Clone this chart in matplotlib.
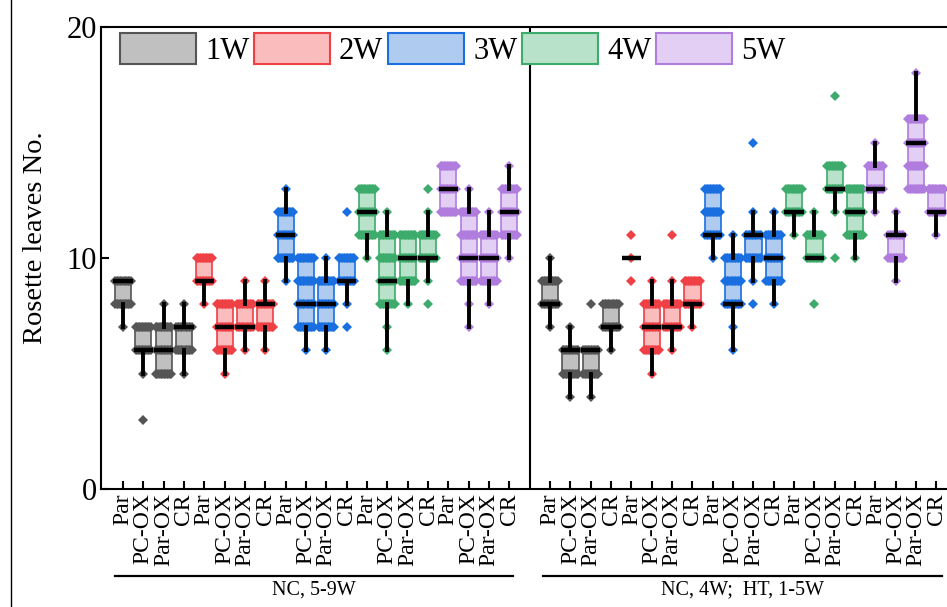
import numpy as np
import matplotlib
matplotlib.use("Agg")
import matplotlib.pyplot as plt
import matplotlib.transforms as mtransforms
from matplotlib.patches import Patch
from matplotlib.lines import Line2D

plt.rcParams['font.family'] = ['Liberation Serif', 'DejaVu Serif']

# groups: 5 weeks x 4 lines, left panel (NC, 5-9W) then right panel (NC 4W; HT 1-5W)
lines = ["Par", "PC-OX", "Par-OX", "CR"]
weeks = ["1W", "2W", "3W", "4W", "5W"]
panel_labels = ["NC, 5-9W", "NC, 4W;  HT, 1-5W"]

face_colors = ["#c0c0c0", "#fbbcbe", "#afcbf0", "#b8e2c9", "#e2cff3"]
edge_colors = ["#555555", "#ee4045", "#1a6fe0", "#3cab6b", "#b07cde"]

# box statistics, 40 groups
whislo = [7, 5, 5, 5,   8, 5, 6, 6,   9, 6, 6, 8,    10, 6, 8, 9,    12, 7, 8, 10,
          7, 4, 4, 6,   10, 5, 6, 7,  10, 6, 9, 8,   11, 10, 12, 10, 12, 9, 13, 11]
q1 = [8, 6, 5, 6,   9, 6, 7, 7,    10, 7, 7, 9,   11, 8, 9, 10,   12, 9, 9, 11,
      8, 5, 5, 7,   10, 6, 7, 8,   11, 8, 10, 9,  12, 10, 13, 11, 13, 10, 13, 12]
med = [9, 6, 6, 7,   9, 7, 7, 8,   11, 8, 8, 9,   12, 9, 10, 10,  13, 10, 10, 12,
       8, 6, 6, 7,   10, 7, 7, 8,  11, 8, 11, 10, 12, 10, 13, 12, 13, 11, 15, 12]
q3 = [9, 7, 7, 7,   10, 8, 8, 8,   12, 10, 9, 10,  13, 11, 11, 11,  14, 12, 11, 13,
      9, 6, 6, 8,   10, 8, 8, 9,   13, 10, 11, 11, 13, 11, 14, 13,  14, 11, 16, 13]
whishi = [9, 7, 8, 8,   10, 8, 9, 9,   13, 10, 10, 10,  13, 12, 11, 12,  14, 13, 12, 14,
          10, 7, 6, 8,  10, 9, 9, 9,   13, 11, 12, 12,  13, 12, 14, 13,  15, 12, 18, 13]
points = [[7, 8, 9], [3, 5, 6, 7], [5, 6, 7, 8], [5, 6, 7, 8],
          [8, 9, 10], [5, 6, 7, 8], [6, 7, 8, 9], [6, 7, 8, 9],
          [9, 10, 11, 12, 13], [6, 7, 8, 9, 10], [6, 7, 8, 9, 10], [7, 8, 9, 10, 12],
          [10, 11, 12, 13], [6, 7, 8, 9, 10, 11, 12], [8, 9, 10, 11], [8, 9, 10, 11, 12, 13],
          [12, 13, 14], [7, 8, 9, 10, 11, 12, 13], [8, 9, 10, 11, 12], [10, 11, 12, 13, 14],
          [7, 8, 9, 10], [4, 5, 6, 7], [4, 5, 6, 8], [6, 7, 8],
          [9, 10, 11], [5, 6, 7, 8, 9], [6, 7, 8, 9, 11], [7, 8, 9],
          [10, 11, 12, 13], [6, 7, 8, 9, 10, 11], [8, 9, 10, 11, 12, 15], [8, 9, 10, 11, 12],
          [11, 12, 13], [8, 10, 11, 12], [10, 12, 13, 14, 17], [10, 11, 12, 13],
          [12, 13, 14, 15], [9, 10, 11, 12], [13, 14, 15, 16, 18], [11, 12, 13]]

positions = list(range(1, 21)) + list(range(22, 42))
tick_labels = lines * 10
group_color = [w for p in range(2) for w in range(5) for _ in range(4)]

fig = plt.figure(figsize=(9.47, 6.07), dpi=100)
ax = fig.add_axes([101/947, 1 - 489/607, 1 - 101/947, (489 - 27)/607])

box_w = 0.8
stats = []
for i in range(40):
    stats.append(dict(whislo=whislo[i], q1=q1[i], med=med[i], q3=q3[i],
                      whishi=whishi[i], fliers=[]))
bp = ax.bxp(stats, positions=positions, widths=box_w, patch_artist=True,
            showcaps=False, showfliers=False,
            whiskerprops=dict(color='black', lw=2.8, zorder=4),
            medianprops=dict(visible=False))
for i, box in enumerate(bp['boxes']):
    c = group_color[i]
    box.set_facecolor(face_colors[c])
    box.set_edgecolor(edge_colors[c])
    box.set_linewidth(1.2)
    box.set_zorder(2)

# data points, rows of diamonds inside the box, single ones outside
offs = np.linspace(-0.38, 0.38, 11)
for i in range(40):
    c = edge_colors[group_color[i]]
    x0 = positions[i]
    for v in points[i]:
        if q1[i] <= v <= q3[i] and q3[i] > q1[i]:
            ax.plot(x0 + offs, [v] * len(offs), 'D', color=c, ms=5, mew=0, zorder=3)
        else:
            ax.plot([x0], [v], 'D', color=c, ms=5.5, mew=0, zorder=3)

ax.hlines(med, np.array(positions) - 0.48, np.array(positions) + 0.48,
          color='black', lw=3.2, zorder=5)

ax.axvline(21, color='black', lw=1.5, zorder=1)

ax.set_xlim(-0.08, 41.52)
ax.set_ylim(0, 20)
ax.set_yticks([0, 10, 20])
ax.set_xticks(positions)
ax.set_xticklabels(tick_labels, rotation=90, fontsize=17)
ax.tick_params(axis='y', direction='in', length=6, width=1.5, labelsize=22, pad=3)
ax.tick_params(axis='x', direction='in', length=6, width=1.5, pad=3)
ax.spines['right'].set_visible(False)
for s in ['left', 'top', 'bottom']:
    ax.spines[s].set_linewidth(1.5)

ax.set_ylabel("Rosette leaves No.", fontsize=20.5)
ax.yaxis.set_label_coords(-0.063, 0.545)

# panel labels under the tick labels
trans = mtransforms.blended_transform_factory(ax.transData, ax.transAxes)
spans = [(0.6, 20.2), (21.65, 41.25)]
for (a, b), lab in zip(spans, panel_labels):
    ax.plot([a, b], [-0.189, -0.189], color='black', lw=1.6, transform=trans, clip_on=False)
    ax.text((a + b) / 2, -0.218, lab, transform=trans, ha='center', va='center', fontsize=14.5)

handles = [Patch(facecolor=face_colors[k], edgecolor=edge_colors[k], lw=1.5) for k in range(5)]
leg = ax.legend(handles, weeks, ncol=5, loc='upper left', bbox_to_anchor=(0.0225, 0.987),
                frameon=False, fontsize=22, handlelength=2.48, handleheight=1.18,
                handletextpad=0.3, columnspacing=0.16, borderpad=0, borderaxespad=0)
leg.set_zorder(10)

fig.add_artist(Line2D([11/947, 11/947], [0, 1], transform=fig.transFigure, color='black', lw=1))

fig.savefig("out.png", dpi=100)
